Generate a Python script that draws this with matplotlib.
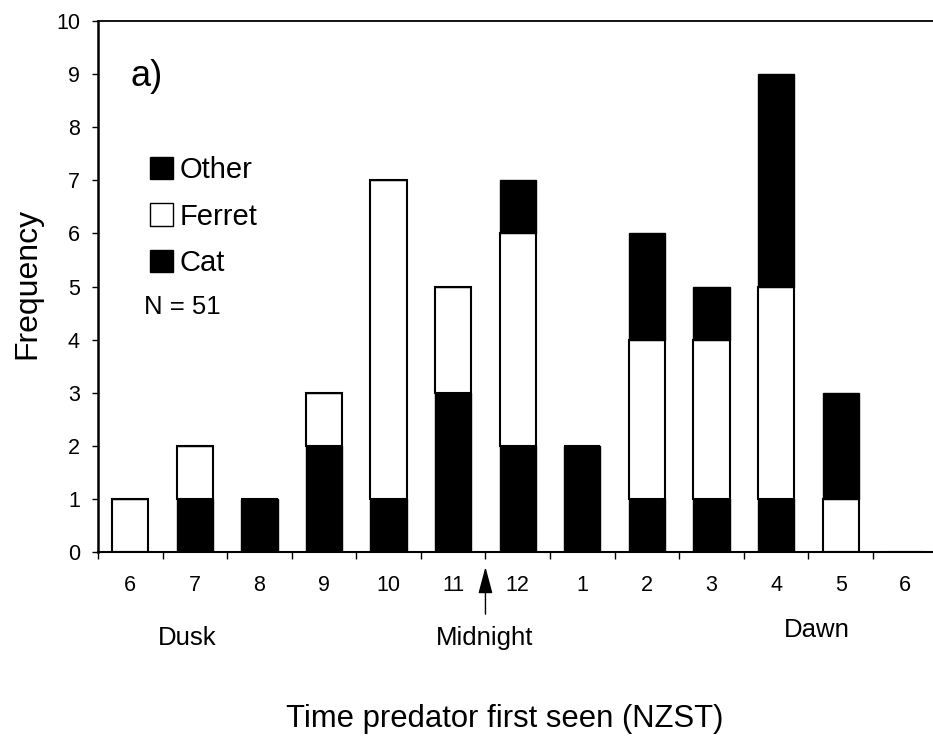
import matplotlib
matplotlib.use("Agg")
import matplotlib.pyplot as plt
from matplotlib.patches import Patch

plt.rcParams["font.family"] = ["Liberation Sans", "DejaVu Sans"]

hours = ["6", "7", "8", "9", "10", "11", "12", "1", "2", "3", "4", "5", "6"]
cat = [0, 1, 1, 2, 1, 3, 2, 2, 1, 1, 1, 0, 0]
ferret = [1, 1, 0, 1, 6, 2, 4, 0, 3, 3, 4, 1, 0]
other = [0, 0, 0, 0, 0, 0, 1, 0, 2, 1, 4, 2, 0]
n_total = sum(cat) + sum(ferret) + sum(other)

fig = plt.figure(figsize=(9.33, 7.41), dpi=100)
ax = fig.add_axes([0.105, 0.255, 0.895, 0.7166])

x = list(range(len(hours)))
width = 0.56
ferret_base = cat
other_base = [c + f for c, f in zip(cat, ferret)]

ax.bar(x, cat, width, color="black", edgecolor="black", linewidth=1)
ax.bar(x, ferret, width, bottom=ferret_base, color="white", edgecolor="black", linewidth=1.5)
ax.bar(x, other, width, bottom=other_base, color="black", edgecolor="black", linewidth=1)

ax.set_xlim(-0.5, 12.43)
ax.set_ylim(0, 10)
ax.set_yticks(range(0, 11))
ax.set_xticks([i - 0.5 for i in range(len(hours))])
ax.set_xticklabels([])
ax.set_xticks(x, minor=True)
ax.set_xticklabels(hours, minor=True)
ax.tick_params(axis="x", which="minor", length=0, pad=16.5, labelsize=15.5)
ax.tick_params(axis="x", which="major", direction="out", length=5, width=1)
ax.tick_params(axis="y", direction="out", length=4, width=1, labelsize=15.5, pad=9)

ax.spines["right"].set_visible(False)
ax.spines["left"].set_linewidth(1.8)
ax.spines["bottom"].set_linewidth(1.5)
ax.spines["top"].set_linewidth(1.3)

ax.set_ylabel("Frequency", fontsize=23)
ax.yaxis.set_label_coords(-0.066, 0.505)
ax.set_xlabel("Time predator first seen (NZST)", fontsize=22.3)
ax.xaxis.set_label_coords(0.487, -0.287)

ax.text(0.0587, 0.896, "a)", fontsize=26, ha="center", va="center", transform=ax.transAxes)
ax.text(0.055, 0.461, f"N = {n_total}", fontsize=18.5, ha="left", va="center", transform=ax.transAxes)

handles = [
    Patch(facecolor="black", edgecolor="black", label="Other"),
    Patch(facecolor="white", edgecolor="black", label="Ferret"),
    Patch(facecolor="black", edgecolor="black", label="Cat"),
]
ax.legend(handles=handles, loc="upper left", bbox_to_anchor=(0.045, 0.773),
          frameon=False, fontsize=21, handlelength=0.8, handleheight=0.8,
          handletextpad=0.2, labelspacing=0.63, borderpad=0)

ax.annotate("", xy=(5.5, -0.28), xytext=(5.5, -1.17),
            arrowprops=dict(arrowstyle="-|>,head_length=0.75,head_width=0.2",
                            color="black", lw=1, mutation_scale=22,
                            shrinkA=0, shrinkB=0),
            annotation_clip=False)
ax.text(0.88, -1.62, "Dusk", fontsize=18.5, ha="center", va="center", clip_on=False)
ax.text(5.48, -1.62, "Midnight", fontsize=18.5, ha="center", va="center", clip_on=False)
ax.text(10.63, -1.47, "Dawn", fontsize=18.5, ha="center", va="center", clip_on=False)

fig.savefig("out.png", dpi=100)
